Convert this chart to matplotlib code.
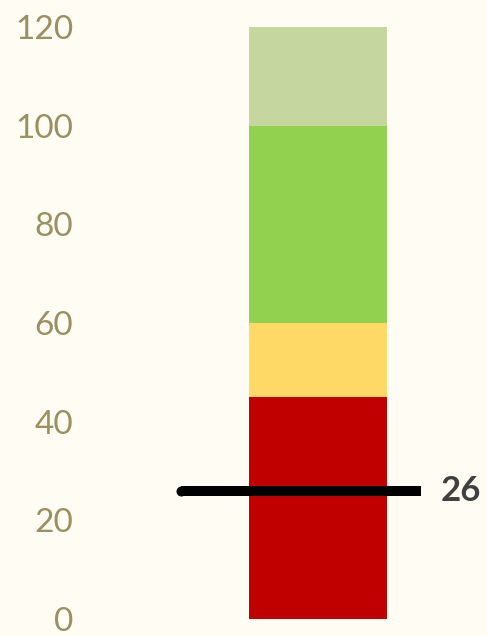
import matplotlib.pyplot as plt

# bands of the bullet (lower, upper, colour)
band_lows = [0, 45, 60, 100]
band_highs = [45, 60, 100, 120]
band_colors = ["#c00000", "#ffd966", "#92d050", "#c5d69e"]
value = 26
yticks = [0, 20, 40, 60, 80, 100, 120]

bg = "#fffcf3"
fig = plt.figure(figsize=(4.87, 6.36), dpi=100, facecolor=bg)
ax = fig.add_axes([90 / 487, 17 / 636, 397 / 487, 592 / 636])
ax.set_facecolor(bg)

for lo, hi, c in zip(band_lows, band_highs, band_colors):
    ax.bar(0.574, hi - lo, bottom=lo, width=0.348, color=c, linewidth=0)

ax.plot([0.23, 0.834], [value, value], color="black", linewidth=7.2,
        solid_capstyle="butt", zorder=3)
ax.plot([0.23], [value], "o", color="black", markersize=7.2,
        markeredgewidth=0, zorder=3)
ax.text(0.884, value, str(value), fontsize=25, fontweight="bold",
        color="#404040", va="center", ha="left", family="Lato")

ax.set_xlim(0, 1)
ax.set_ylim(0, 120)
ax.set_xticks([])
ax.set_yticks(yticks)
ax.set_yticklabels([str(t) for t in yticks], fontsize=24, color="#9b9060",
                   family="Lato")
ax.tick_params(axis="y", length=0, pad=12)
for s in ax.spines.values():
    s.set_visible(False)

fig.savefig("out.png", dpi=100, facecolor=bg)
